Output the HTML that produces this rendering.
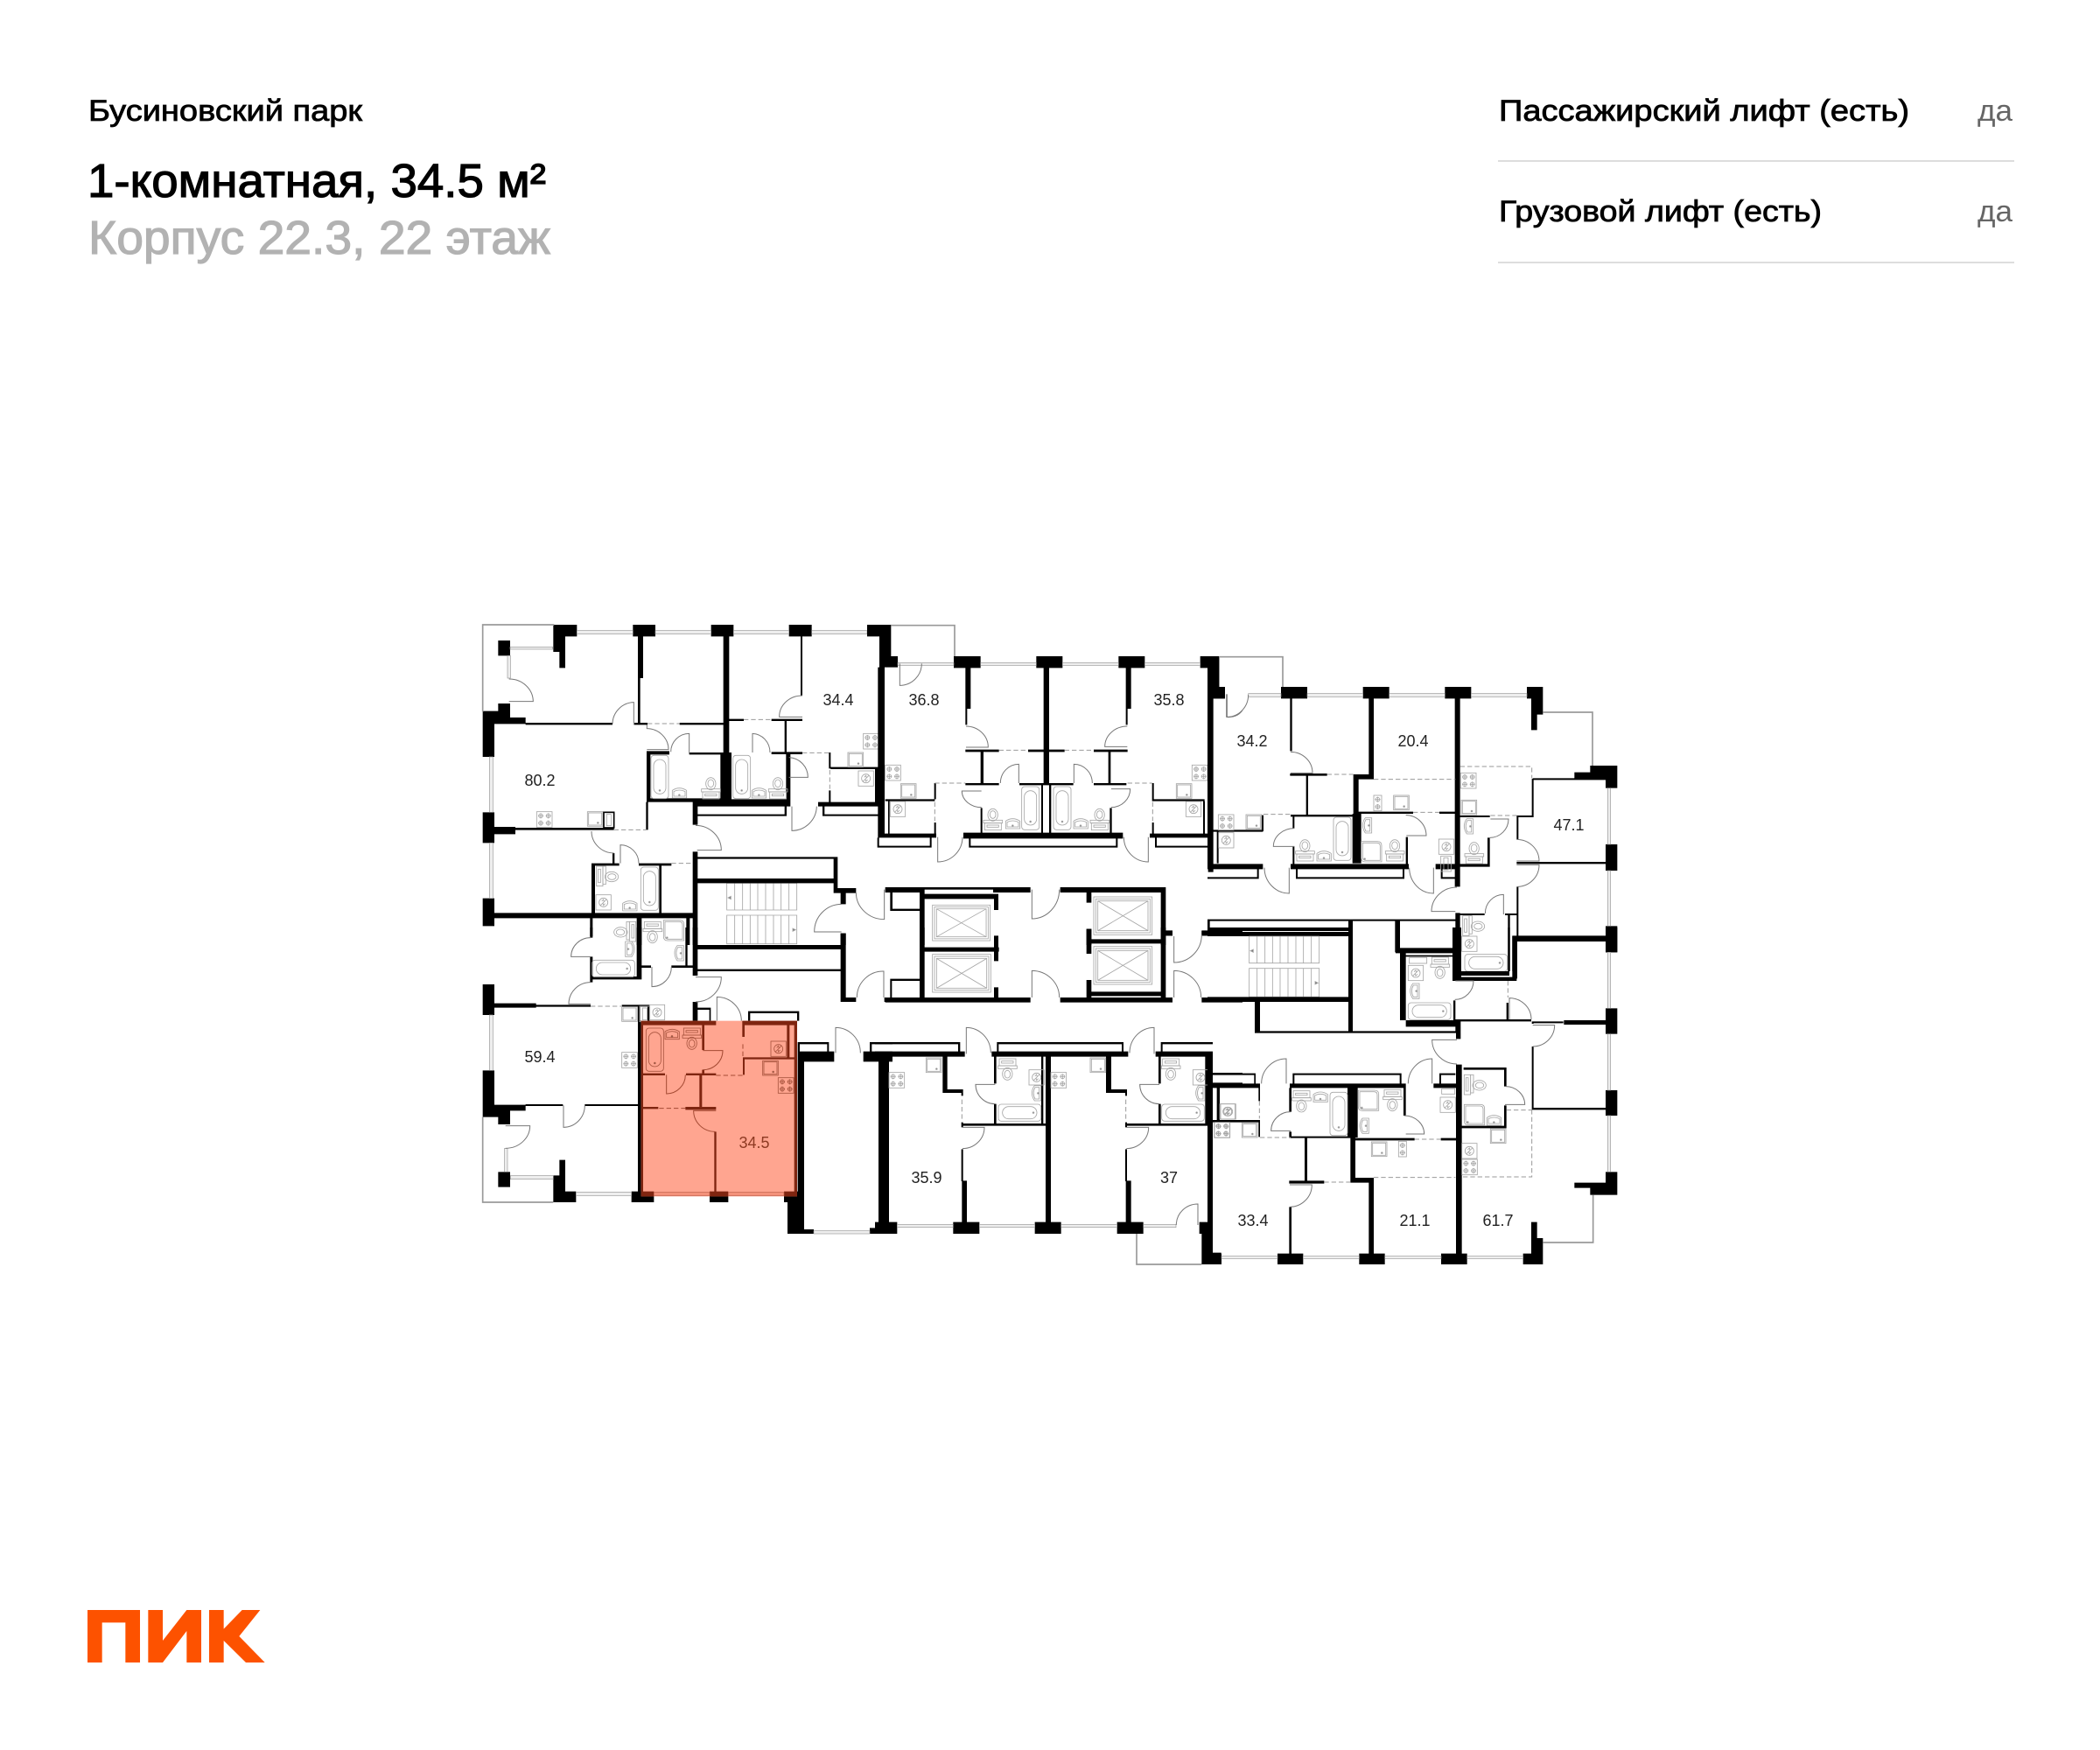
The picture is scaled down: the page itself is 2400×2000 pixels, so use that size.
<!DOCTYPE html>
<html lang="ru"><head><meta charset="utf-8"><title>Бусиновский парк</title>
<style>
html,body{margin:0;padding:0;background:#fff}
svg{display:block}
.w{fill:#000}
.d{fill:none;stroke:#777;stroke-width:3}
.b{fill:none;stroke:#999;stroke-width:5}
.da{fill:none;stroke:#999;stroke-width:3;stroke-dasharray:16 9}
.n{fill:#eee;stroke:#999;stroke-width:2}
.fx{fill:none;stroke:#a5a5a5;stroke-width:2.5}
.h{fill:#FFA590}
.hw{fill:#7f2510}
.hd{fill:none;stroke:#a44a33;stroke-width:3}
.hda{fill:none;stroke:#a44a33;stroke-width:3;stroke-dasharray:16 9}
.hn{fill:#f3917a;stroke:#bb5d47;stroke-width:2}
.hfx{fill:none;stroke:#a9553f;stroke-width:2.5}
text{font-family:"Liberation Sans",sans-serif}
.l{font-size:18px;fill:#222;text-anchor:middle}
</style></head><body>
<svg xmlns="http://www.w3.org/2000/svg" width="2400" height="2000" viewBox="0 0 2400 2000">
<rect width="2400" height="2000" fill="#fff"/>
<defs>
<g id="hob"><rect width="53" height="53"/><circle cx="14" cy="14" r="7"/><circle cx="40" cy="14" r="7"/><circle cx="14" cy="39" r="7"/><circle cx="40" cy="39" r="7"/><path d="M5 14H23M14 5V23M31 14H49M40 5V23M5 39H23M14 30V48M31 39H49M40 30V48"/></g>
<g id="hob2"><rect width="27" height="53"/><circle cx="13.500" cy="14" r="7"/><circle cx="13.500" cy="39" r="7"/><path d="M4 14H23M13.500 5V23M4 39H23M13.500 30V48"/></g>
<g id="sink"><rect width="53" height="50"/><rect x="4" y="4" width="45" height="42"/><circle cx="36" cy="38" r="2.500" fill="#777"/></g>
<g id="shaft"><rect width="52" height="52"/><circle cx="26" cy="26" r="15"/><path d="M16 36L36 16M20 22l6-6 2 8M32 30l-6 6-2-8"/></g>
<g id="bath"><rect width="60" height="148" rx="10"/><rect x="9" y="14" width="42" height="118" rx="21"/><circle cx="30" cy="120" r="2.500" fill="#777"/></g>
<g id="bathH"><rect width="146" height="58" rx="10"/><rect x="14" y="8" width="118" height="42" rx="21"/><circle cx="120" cy="29" r="2.500" fill="#777"/></g>
<g id="basin"><path d="M3 38V12Q27 -4 52 12V38Z"/><path d="M8 32V16Q27 6 47 16V32Z"/><circle cx="27" cy="28" r="2.500" fill="#777"/></g>
<g id="basinV"><path d="M36 2H14Q-4 27 14 54H36Z"/><path d="M30 8H16Q5 27 16 48H30Z"/><circle cx="26" cy="28" r="2.500" fill="#777"/></g>
<g id="tu"><ellipse cx="32" cy="22" rx="17" ry="21"/><ellipse cx="32" cy="21" rx="10" ry="13"/><rect x="0" y="40" width="65" height="10"/><rect x="4" y="50" width="57" height="24"/><rect x="12" y="57" width="40" height="7"/></g>
<g id="td"><rect x="4" y="0" width="57" height="24"/><rect x="12" y="8" width="40" height="7"/><rect x="0" y="24" width="65" height="10"/><ellipse cx="32" cy="52" rx="17" ry="21"/><ellipse cx="32" cy="53" rx="10" ry="13"/></g>
<g id="tr"><rect width="22" height="68"/><rect x="6" y="10" width="8" height="46"/><rect x="22" y="0" width="10" height="62"/><ellipse cx="52" cy="36" rx="23" ry="17"/><ellipse cx="53" cy="36" rx="14" ry="10"/></g>
<g id="sh"><path d="M0 0H56Q70 0 70 14V70H14Q0 70 0 56Z"/><path d="M5 5H54Q65 5 65 16V65H16Q5 65 5 54Z"/><circle cx="12" cy="60" r="2.500" fill="#777"/></g>
<g id="fl"><rect width="35" height="53"/><rect x="10" y="6" width="15" height="41"/></g>
<g id="lift"><rect width="200" height="130"/><rect x="7" y="7" width="186" height="116"/><rect x="14" y="14" width="172" height="102"/><path d="M14 14L186 116M186 14L14 116"/></g>
<g id="stairs"><path d="M0 0H240V92H0ZM0 110H240V208H0ZM27 0V92M54 0V92M80 0V92M106 0V92M133 0V92M160 0V92M186 0V92M213 0V92M27 110V208M54 110V208M80 110V208M106 110V208M133 110V208M160 110V208M186 110V208M213 110V208"/><path d="M4 50l10-5v10zM236 160l-10-5v10z" fill="#777"/></g>
</defs>

<!-- ZONE 1 -->
<g transform="translate(540 700) scale(.33333)">
<use href="#stairs" x="872" y="928" class="fx"/>
<path class="w" d="M277 42H358V82H318V190H298V135H277ZM88 96H129V148H88ZM550 42H627V82H585V225H575V385H567V82H550ZM818 42H895V82H880V480H888V650H850V480H860V82H818ZM1085 42H1163V82H1131V285H1125V82H1085ZM35 338H88V312H129V360H182V382H75V495H35ZM182 378H480V385H182ZM555 378H600V385H555ZM710 378H860V385H710ZM597 475H675V487H610V637H852V650H597ZM743 480H860V487H743ZM755 640H1090V665H772V728H755ZM1075 480H1090V660H1075ZM1025 478H1131V486H1025ZM880 365H930V372H880ZM1025 365H1131V372H1025ZM1070 372H1077V480H1070ZM770 692H1070V665H1077V698H770ZM755 820H772V1040H755ZM772 838H1252V945H1315V962H1280V1000H1262V962H1238V928H772V912H1238V845H772ZM1262 1100H1280V1140H1262ZM75 1030H755V1048H75ZM35 685H75V735H147V760H75V790H35ZM35 980H75V1075H35ZM147 738H485V746H147ZM595 650H602V745H595ZM408 860H503V868H420V1030H408ZM480 825H487V860H480ZM570 860H682V868H570ZM640 868H648V1030H640ZM403 1048H412V1110H403ZM563 1048H580V1140H563ZM733 1048H745V1140H733ZM755 1040H772V1140H755ZM1222 480H1228V530H1395V537H1228V535H1222ZM1222 610H1228V650H1222ZM1185 650H1395V665H1185ZM1200 665H1207V692H1395V698H1200ZM1380 537H1393V650H1380Z"/>
<path class="b" d="M35 340V42H280"/>
<rect class="n" x="358" y="62" width="192" height="12"/><rect class="n" x="627" y="62" width="191" height="12"/><rect class="n" x="895" y="62" width="190" height="12"/><rect class="n" x="1163" y="62" width="190" height="12"/><rect class="n" x="58" y="495" width="12" height="190"/><rect class="n" x="58" y="790" width="12" height="190"/><rect class="n" x="129" y="118" width="146" height="8"/><rect class="n" x="120" y="148" width="10" height="77"/>
<path class="d" d="M125 228A82 78 0 0 1 208 305H125M553 385V308A75 75 0 0 0 480 382M598 385V398A75 72 0 0 1 672 470H598M743 485V415A63 63 0 0 0 680 478M1131 285A78 72 0 0 0 1052 358H1131M1085 497A68 68 0 0 1 1150 565H1085M960 480V415A62 65 0 0 1 1020 480M1095 665V748A85 85 0 0 0 1180 665M765 730A88 85 0 0 1 853 815H770M408 750A78 75 0 0 0 485 825M507 860V797A63 63 0 0 1 570 860M1265 1000A93 95 0 0 0 1172 1095H1265M1315 960A97 92 0 0 0 1412 1052V950"/>
<path class="da" d="M600 381H710M930 367H1025M1131 481H1222M1225 540V605M485 745H597M682 860H755"/>
<g class="fx"><use href="#hob" x="1340" y="415"/><use href="#sink" x="1287" y="480"/><use href="#shaft" x="1323" y="543"/><use href="#hob" x="220" y="683"/><use href="#sink" x="394" y="683"/><use href="#bath" x="612" y="490"/><use href="#tu" x="785" y="565"/><use href="#basin" x="682" y="598"/><use href="#bath" x="893" y="490"/><use href="#basin" x="955" y="598"/><use href="#tu" x="1015" y="565"/><use href="#tr" x="425" y="870"/><use href="#shaft" x="417" y="968" transform="translate(6 0)"/><use href="#basin" x="512" y="985"/><use href="#bath" x="577" y="873"/></g>
<rect x="450" y="685" width="35" height="53" fill="#fff" stroke="#000" stroke-width="5"/><rect x="460" y="692" width="15" height="39" fill="none" stroke="#999" stroke-width="2"/>
</g>

<!-- ZONE 2 -->
<g transform="translate(1000 700) scale(.33333)">
<use href="#lift" x="197" y="1003" class="fx" transform="translate(197 1003) scale(.99 .94) translate(-197 -1003)"/>
<use href="#lift" x="750" y="975" class="fx"/>
<path class="w" d="M-27 42H55V150H78V188H33V770H10V188H15V82H-27ZM35 640H205V647H35ZM45 647H50V760H45ZM10 758H210V772H10ZM8 772H14V800H188V772H194V806H8ZM203 585H209V640H203ZM203 720H209V760H203ZM303 755H850V775H303ZM322 775H328V800H826V775H832V806H322ZM310 585H425V592H310ZM495 585H680V592H495ZM553 150H643V190H597V590H578V190H553ZM570 590H576V758H570ZM597 590H604V758H597ZM310 470H425V478H310ZM525 470H650V478H525ZM750 470H866V478H750ZM362 478H372V585H362ZM362 670H368V758H362ZM805 670H812V758H805ZM800 478H808V585H800ZM750 585H862V592H750ZM270 150H362V190H328V330H316V385H310V190H270ZM835 150H925V190H878V330H866V385H860V190H835ZM1115 150H1180V258H1200V295H1160V890H1142V190H1115ZM950 585H956V640H1130V647H950ZM950 720H956V760H950ZM942 758H1142V772H942ZM960 772H966V800H1142V806H960ZM1125 647H1131V760H1125ZM35 942H533V960H35Z"/>
<rect x="170" y="950" width="235" height="15" fill="#fff"/>
<path class="w" d="M52 960H60V1016H153V1023H52ZM153 960H170V1140H153ZM170 965H423V982H170ZM408 965H423V1020H408ZM408 1108H423V1140H408ZM635 942H997V1140H980V960H635ZM725 960H742V995H725ZM725 1085H742V1140H725ZM997 1093H1020V1108H997ZM1120 1092H1140V1108H1120Z"/>
<rect class="n" x="78" y="172" width="192" height="9"/><rect class="n" x="362" y="172" width="191" height="9"/><rect class="n" x="643" y="172" width="192" height="9"/><rect class="n" x="925" y="172" width="190" height="9"/>
<path class="b" d="M55 44H273V150"/>
<path class="d" d="M85 175V250A75 75 0 0 0 160 175M312 390A76 72 0 0 1 388 462H312M865 390A77 70 0 0 0 788 460H865M493 585V520A63 65 0 0 0 430 585M682 585V520A63 65 0 0 1 745 585M365 612H298A67 56 0 0 0 365 668M810 605H875A65 63 0 0 1 810 668M215 770V855A85 85 0 0 0 300 770M937 770V855A84 85 0 0 1 853 770M1205 280V358A55 55 0 0 0 1260 335M538 950V1050A94 100 0 0 0 632 950"/>
<path class="da" d="M205 585H310M205 650V715M425 472H525M650 472H750M866 585H950M952 650V715"/>
<g class="fx"><use href="#hob" x="35" y="523"/><use href="#sink" x="88" y="587"/><use href="#shaft" x="52" y="648"/><use href="#hob" x="1087" y="523"/><use href="#sink" x="1033" y="587"/><use href="#shaft" x="1066" y="648"/><use href="#bath" x="503" y="597"/><use href="#bath" x="612" y="597"/><use href="#tu" x="372" y="672"/><use href="#tu" x="738" y="672"/><use href="#basin" x="445" y="703"/><use href="#basin" x="678" y="703"/></g>
</g>

<!-- ZONE 3 -->
<g transform="translate(1380 730) scale(.33333)">
<path class="w" d="M0 60H40V165H60V205H18V775H0ZM252 165H342V205H290V385H283V205H252ZM533 165H623V205H570V482H518V600H527V770H497V600H500V465H553V205H533ZM814 165H904V205H866V850H848V205H814ZM1095 165H1150V260H1130V313H1110V205H1095ZM1312 435H1405V512H1365V478H1258V458H1312ZM1115 478H1365V484H1115ZM1112 480H1118V612H1060V606H1112ZM1060 606H1066V688H1060ZM866 606H968V612H866ZM960 682H968V782H866V772H960ZM1060 765H1365V772H1060ZM1060 850H1066V1020H1060ZM1365 705H1405V795H1365ZM1365 985H1405V1075H1365ZM1045 1018H1365V1038H1062V1140H1045ZM850 940H866V1140H850ZM866 942H950V948H866ZM1020 942H1060V948H1020ZM1030 948H1037V1140H1030ZM283 462H410V470H283ZM338 470H345V605H338ZM285 603H500V610H285ZM292 610H298V650H292ZM292 712H298V775H292ZM18 655H190V662H18ZM186 605H192V660H186ZM32 662H38V770H32ZM0 772H190V790H0ZM0 817H170V790H176V823H0ZM285 772H690V790H285ZM303 790H309V817H669V790H675V823H303ZM518 593H705V600H518ZM795 593H850V600H795ZM680 680H687V780H680ZM782 772H850V790H782ZM800 790H806V817H850V823H800ZM0 962H490V968H0ZM0 1005H490V1020H0ZM0 968H8V1005H0ZM483 968H498V1140H483ZM490 962H850V968H490ZM643 968H660V1075H643ZM660 1060H850V1075H660Z"/>
<rect class="n" x="342" y="188" width="191" height="11"/><rect class="n" x="623" y="188" width="191" height="11"/><rect class="n" x="904" y="188" width="191" height="11"/><rect class="n" x="140" y="188" width="112" height="11"/><rect class="n" x="1372" y="512" width="10" height="193"/><rect class="n" x="1372" y="795" width="10" height="190"/>
<path class="b" d="M42 62H258V165M1150 252H1320V435"/>
<path class="d" d="M67 190V268A73 76 0 0 0 140 192M285 388A75 72 0 0 1 360 460H285M298 650A72 62 0 0 0 226 712H298M280 785V873A85 88 0 0 1 195 785M680 605A70 70 0 0 1 750 675H682M775 785V873A83 88 0 0 1 692 785M970 618H1032A64 64 0 0 1 968 682M1060 688A77 74 0 0 1 1137 762H1060M1060 775H1137A75 75 0 0 1 1062 850M855 852A87 83 0 0 0 768 935H850M1015 945V877A63 65 0 0 0 952 942"/>
<path class="da" d="M410 465H500M192 602H285M570 482H850M705 595H795M866 438H1112V478M970 606H1062"/>
<g class="fx"><use href="#hob" x="37" y="603"/><use href="#sink" x="132" y="603"/><use href="#shaft" x="38" y="665"/><use href="#bath" x="432" y="612"/><use href="#tu" x="302" y="688"/><use href="#basin" x="372" y="724"/><use href="#basinV" x="527" y="612"/><use href="#sh" x="527" y="695"/><use href="#tu" x="610" y="688"/><use href="#shaft" x="793" y="687"/><use href="#hob2" x="570" y="537"/><use href="#sink" x="638" y="537"/><use href="#hob" x="868" y="460"/><use href="#sink" x="870" y="553"/><use href="#basinV" x="875" y="615"/><use href="#tu" x="882" y="697"/><use href="#fl" x="800" y="745" transform="translate(0 0)"/><use href="#tr" x="875" y="950"/><use href="#shaft" x="872" y="1020"/><use href="#bathH" x="882" y="1082"/></g>
</g>

<!-- ZONE 4 -->
<g transform="translate(540 1060) scale(.33333)">
<path class="w" d="M403 0H412V35H403ZM403 100H412V188H403ZM403 168H580V178H403ZM563 0H580V175H563ZM580 130H612V138H580ZM682 130H760V138H682ZM730 0H737V130H730ZM755 0H772V165H755ZM755 255H772V320H755ZM772 275H817V320H812V282H772ZM35 195H75V260H218V265H405V272H218V275H75V300H35ZM35 490H75V608H182V628H129V675H88V650H35ZM182 606H310V612H182ZM385 606H570V612H385ZM88 838H129V890H88ZM298 797H318V905H355V942H277V850H298ZM545 905H622V942H545ZM813 905H877V942H813ZM1068 905H1115V425H1240V460H1137V1035H1170V1050H1080V942H1068ZM1340 425H1440V460H1425V1030H1440V1050H1362V1030H1393V460H1340ZM1115 393H1222V425H1216V400H1122V425H1115ZM1362 393H1440V400H1369V425H1362ZM1262 20H1280V240H1315V255H1262ZM1412 240H1440V255H1412ZM772 60H1268V75H772ZM772 143H1268V150H772ZM567 268H575V320H567ZM600 268H607V320H600ZM512 265H607V272H512ZM567 320H578V920H567ZM945 287H1120V320H1113V294H952V320H945Z"/>
<path class="b" d="M35 650V942H277"/>
<rect class="n" x="355" y="907" width="190" height="12"/><rect class="n" x="1170" y="1040" width="192" height="10"/><rect class="n" x="58" y="300" width="12" height="190"/><rect class="n" x="110" y="757" width="10" height="81"/><rect class="n" x="130" y="851" width="147" height="12"/>
<path class="d" d="M405 35A67 65 0 0 0 338 100H405M615 135V203A67 68 0 0 0 682 135M765 170H853A88 85 0 0 1 765 255M405 188A75 74 0 0 0 330 262H405M838 320V238A84 82 0 0 1 922 320M312 610V685A73 75 0 0 0 385 610M113 680H197A84 77 0 0 1 113 757M1245 430V343A85 87 0 0 1 1330 430M1410 240V150A90 90 0 0 0 1318 240"/>
<path class="da" d="M405 270H510"/>
<g class="fx"><use href="#sink" x="512" y="272"/><use href="#fl" x="573" y="270"/><use href="#shaft" x="607" y="265"/><use href="#hob" x="512" y="428"/></g>
<rect class="h" x="578" y="320" width="535" height="602"/>
<path class="hw" d="M578 320H835V335H578ZM578 335H585V905H578ZM925 320H1113V905H1103V335H925ZM787 335H795V420H787ZM585 500H660V507H585ZM732 500H835V507H732ZM787 488H795V500H787ZM778 507H787V617H778ZM730 615H835V625H730ZM582 615H637V622H582ZM829 700H836V905H829ZM925 335H933V375H925ZM927 450H933V505H927ZM927 445H1105V452H927ZM1078 335H1087V445H1078ZM578 905H622V922H578ZM813 905H877V922H813ZM1068 905H1113V922H1068Z"/>
<rect class="hn" x="622" y="908" width="191" height="11"/><rect class="hn" x="877" y="908" width="191" height="11"/>
<path class="hd" d="M790 422H858A68 66 0 0 1 790 488M665 505V570A65 65 0 0 0 730 505M835 628H758A74 72 0 0 0 832 700"/>
<path class="hda" d="M835 507H927M927 400V445M640 620H730"/>
<g class="hfx"><use href="#bath" x="595" y="345"/><use href="#basin" x="657" y="345"/><use href="#td" x="720" y="345"/><use href="#shaft" x="1023" y="390"/><use href="#sink" x="995" y="457"/><use href="#hob" x="1048" y="515"/></g>
</g>

<!-- ZONE 5 -->
<g transform="translate(1000 1060) scale(.33333)">
<use href="#lift" x="197" y="92" class="fx"/>
<use href="#lift" x="750" y="65" class="fx"/>
<path class="w" d="M153 0H170V240H153ZM165 68H425V83H165ZM408 30H423V115H408ZM408 205H423V240H408ZM35 240H533V257H35ZM52 176H153V183H58V240H52ZM635 240H1020V257H635ZM980 0H997V240H980ZM725 180H742V240H725ZM742 220H980V235H742ZM725 5H742V90H725ZM742 40H985V55H742ZM997 10H1020V28H997ZM1120 10H1260V28H1120ZM1120 240H1260V257H1120ZM0 393H292V425H285V400H0ZM0 425H308V443H48V1010H76V1050H0V1010H12V458H0ZM232 443H248V555H302V577H296V567H232ZM296 668H302V685H296ZM296 672H585V680H296ZM296 760H302V868H315V1010H298V870H296ZM408 443H416V535H408ZM408 605H416V672H408ZM570 443H577V672H570ZM400 425H868V443H603V1010H585V443H400ZM418 393H852V425H846V400H424V425H418ZM268 1010H358V1050H268ZM548 1010H638V1050H548ZM830 1010H920V1050H830ZM792 443H810V555H864V577H858V567H792ZM858 668H864V685H858ZM860 672H1140V680H860ZM858 760H864V868H878V1010H860V870H858ZM972 443H980V535H972ZM972 605H980V672H972ZM962 425H1158V1010H1140V443H962ZM1132 443H1140V672H1132ZM980 393H1158V400H986V425H980ZM1158 498H1260V505H1158ZM1158 532H1260V547H1158ZM1172 547H1180V660H1172ZM1158 660H1260V665H1158ZM1112 1010H1158V1115H1187V1155H1120V1050H1112Z"/>
<path class="b" d="M897 1050V1155H1120"/>
<rect class="n" x="76" y="1018" width="192" height="10"/><rect class="n" x="358" y="1018" width="190" height="10"/><rect class="n" x="638" y="1018" width="192" height="10"/><rect class="n" x="920" y="1018" width="112" height="10"/>
<path class="d" d="M538 240V148A94 92 0 0 1 632 240M1025 30V120A95 95 0 0 0 1120 25M1025 240V148A93 92 0 0 1 1118 240M313 433V343A84 87 0 0 1 397 430M957 433V343A84 87 0 0 0 873 430M412 538H345A67 67 0 0 0 412 605M975 538H908A67 67 0 0 0 975 605M300 685H375A75 73 0 0 1 300 758M862 685H938A76 73 0 0 1 862 758M1107 1020V948A74 72 0 0 0 1033 1020"/>
<path class="da" d="M298 590V665M860 590V665"/>
<g class="fx"><use href="#hob" x="48" y="497"/><use href="#sink" x="175" y="447"/><use href="#hob" x="603" y="497"/><use href="#sink" x="738" y="447"/><use href="#td" x="422" y="450"/><use href="#shaft" x="528" y="488"/><use href="#basinV" x="533" y="540"/><use href="#bathH" x="423" y="606"/><use href="#td" x="982" y="450"/><use href="#shaft" x="1090" y="488"/><use href="#basinV" x="1095" y="540"/><use href="#bathH" x="983" y="606"/><use href="#shaft" x="1185" y="605"/><use href="#hob" x="1163" y="667"/></g>
</g>

<!-- ZONE 6 -->
<g transform="translate(1380 1060) scale(.33333)">
<use href="#stairs" x="143" y="30" class="fx"/>
<path class="w" d="M0 0H490V12H0ZM483 0H498V355H483ZM0 238H490V255H0ZM162 255H180V355H855V362H162ZM645 0H660V72H850V88H645ZM660 88H680V340H850V318H660ZM680 95H850V100H680ZM843 250H850V318H843ZM843 100H850V180H843ZM840 0H870V170H1060V183H840ZM1045 30H1365V48H1062V175H1045ZM865 150H1035V165H865ZM1030 0H1037V150H1030ZM850 320H868V382H852V355H850ZM852 470H872V1118H852ZM1025 258H1032V315H1025ZM850 315H1110V322H850ZM1115 322H1220V328H1115ZM1222 318H1365V333H1222ZM1112 322H1118V330H1112ZM1112 408H1118V625H1112ZM1115 618H1365V625H1115ZM1365 0H1405V85H1365ZM1365 277H1405V365H1365ZM1365 558H1405V645H1365ZM1365 838H1405V917H1312V893H1258V875H1365ZM1110 1010H1130V1065H1150V1155H1082V1118H1110ZM801 1118H890V1155H801ZM520 1118H608V1155H520ZM240 1118H328V1155H240ZM0 1118H48V1155H0ZM0 440H18V1118H0ZM18 500H165V535H160V506H18ZM18 535H180V550H18ZM35 550H42V660H35ZM18 660H180V668H18ZM175 550H180V595H175ZM175 660H180V718H175ZM282 535H680V550H282ZM292 500H665V535H659V506H298V535H292ZM280 550H288V632H280ZM280 700H288V722H280ZM280 716H490V722H280ZM333 722H342V870H333ZM280 868H400V878H280ZM280 958H288V1118H280ZM480 550H515V720H507V858H570V1118H553V875H490V720H480ZM507 722H710V730H507ZM800 722H855V730H800ZM672 550H680V645H672ZM795 500H850V506H801V535H795ZM775 535H852V550H775ZM878 480H1025V488H878ZM1017 488H1025V545H1017ZM1017 610H1025V688H870V680H1017Z"/>
<path class="b" d="M1322 917V1080H1150"/>
<rect class="n" x="48" y="1127" width="192" height="8"/><rect class="n" x="328" y="1127" width="192" height="8"/><rect class="n" x="608" y="1127" width="193" height="8"/><rect class="n" x="890" y="1127" width="192" height="8"/><rect class="n" x="1372" y="85" width="10" height="192"/><rect class="n" x="1372" y="365" width="10" height="193"/><rect class="n" x="1372" y="645" width="10" height="193"/>
<path class="d" d="M270 535V450A85 85 0 0 0 185 535M770 535V450A82 85 0 0 0 688 535M285 697H218A67 65 0 0 1 285 632M680 708H743A68 63 0 0 0 675 645M282 882H358A76 76 0 0 1 282 958M848 247A64 64 0 0 0 912 183H850M1035 315V242A75 73 0 0 1 1110 315M1115 335H1190A75 73 0 0 1 1115 408M855 468A85 83 0 0 1 770 385H855M1022 545A66 62 0 0 1 1088 607H1020"/>
<path class="da" d="M1030 183V240M178 595V655M180 720H285M400 873H490M570 857H850M710 726H800M1112 625V855H872M1025 626H1112"/>
<g class="fx"><use href="#hob" x="24" y="668"/><use href="#sink" x="118" y="670"/><use href="#shaft" x="42" y="605"/><use href="#td" x="290" y="560"/><use href="#basin" x="360" y="560"/><use href="#bath" x="420" y="565"/><use href="#sh" x="517" y="558"/><use href="#td" x="602" y="556"/><use href="#basinV" x="517" y="652"/><use href="#sink" x="562" y="735"/><use href="#hob2" x="655" y="733"/><use href="#shaft" x="798" y="582"/><use href="#tr" x="880" y="505"/><use href="#sh" x="880" y="607"/><use href="#basin" x="955" y="640"/><use href="#sink" x="970" y="690"/><use href="#shaft" x="872" y="740"/><use href="#hob" x="872" y="795"/><use href="#td" x="765" y="102"/><use href="#shaft" x="688" y="130"/><use href="#basinV" x="690" y="190"/><use href="#bathH" x="688" y="258"/></g>
<rect x="803" y="553" width="45" height="18" class="fx"/><rect x="692" y="103" width="60" height="20" class="fx"/>
</g>

<!-- ZONE 7 -->
<g transform="translate(670 1040) scale(.33333)">
<g class="fx"><use href="#tr" transform="translate(170 40) scale(-1 1)"/><use href="#basinV" transform="translate(170 106) scale(-1 1)"/><use href="#bathH" x="20" y="172"/><use href="#td" x="195" y="40"/><use href="#sh" x="265" y="35"/><use href="#basinV" x="298" y="120"/></g>
</g>

<!-- AREA LABELS -->
<text class="l" x="617" y="898">80.2</text>
<text class="l" x="958" y="806">34.4</text>
<text class="l" x="1056" y="806">36.8</text>
<text class="l" x="1336" y="806">35.8</text>
<text class="l" x="1431" y="853">34.2</text>
<text class="l" x="1615" y="853">20.4</text>
<text class="l" x="1793" y="949">47.1</text>
<text class="l" x="617" y="1214">59.4</text>
<text class="l" x="862" y="1312" style="fill:#8d3a22">34.5</text>
<text class="l" x="1059" y="1352">35.9</text>
<text class="l" x="1336" y="1352">37</text>
<text class="l" x="1432" y="1401">33.4</text>
<text class="l" x="1617" y="1401">21.1</text>
<text class="l" x="1712" y="1401">61.7</text>

<!-- HEADER -->
<text x="101" y="138" font-size="34" fill="#000" stroke="#000" stroke-width=".8" textLength="313" lengthAdjust="spacingAndGlyphs">Бусиновский парк</text>
<text x="100" y="225" font-size="54" fill="#000" stroke="#000" stroke-width="1.200" textLength="524" lengthAdjust="spacingAndGlyphs">1-комнатная, 34.5 м²</text>
<text x="101" y="290" font-size="54" fill="#b2b2b2" stroke="#b2b2b2" stroke-width="1.200" textLength="528" lengthAdjust="spacingAndGlyphs">Корпус 22.3, 22 этаж</text>
<text x="1713" y="138" font-size="34" fill="#000" stroke="#000" stroke-width=".8" textLength="469" lengthAdjust="spacingAndGlyphs">Пассажирский лифт (есть)</text>
<text x="1713" y="253" font-size="34" fill="#000" stroke="#000" stroke-width=".8" textLength="369" lengthAdjust="spacingAndGlyphs">Грузовой лифт (есть)</text>
<text x="2260" y="138" font-size="34" fill="#666" textLength="40" lengthAdjust="spacingAndGlyphs">да</text>
<text x="2260" y="253" font-size="34" fill="#666" textLength="40" lengthAdjust="spacingAndGlyphs">да</text>
<rect x="1712" y="183" width="590" height="2" fill="#ddd"/>
<rect x="1712" y="299" width="590" height="2" fill="#ddd"/>

<!-- LOGO -->
<g transform="translate(80 1820) scale(.33333)" fill="#FD5200">
<path d="M60 60H240V240H190V103H110V240H60Z"/>
<path d="M268 60H318V165L400 60H450V240H400V132L318 240H268Z"/>
<path d="M477 60H527V125L590 60H652L580 150L668 240H603L527 165V240H477Z"/>
</g>
</svg>
</body></html>
